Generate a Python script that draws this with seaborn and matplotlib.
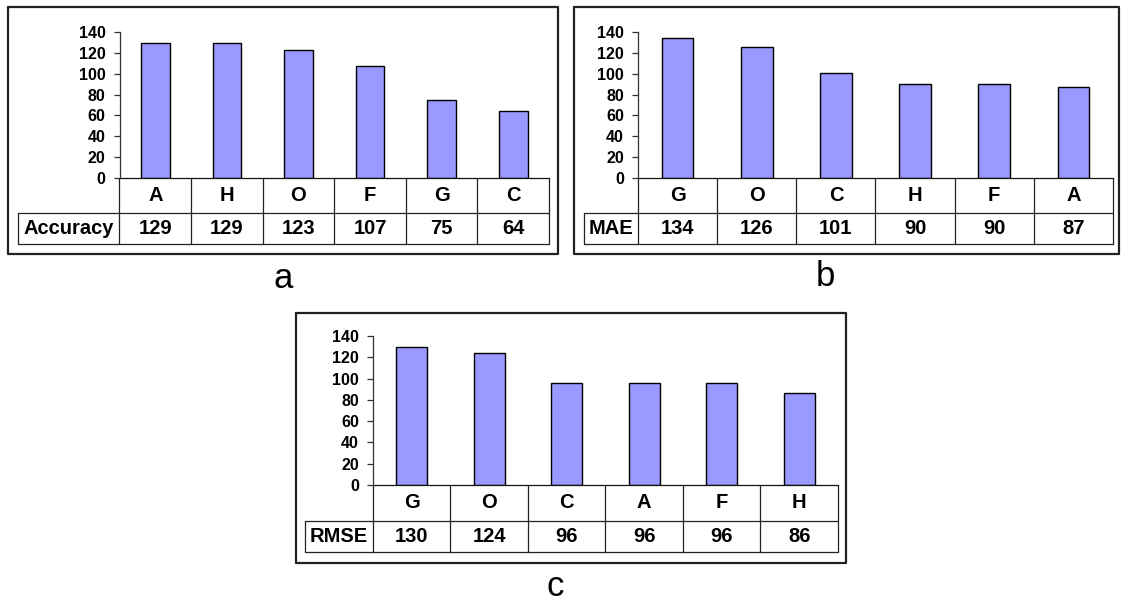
import matplotlib
matplotlib.use("Agg")
import matplotlib.pyplot as plt
import seaborn as sns

# Scores per method for three error/accuracy measures
acc_labels = ["A", "H", "O", "F", "G", "C"]
acc_values = [129, 129, 123, 107, 75, 64]

mae_labels = ["G", "O", "C", "H", "F", "A"]
mae_values = [134, 126, 101, 90, 90, 87]

rmse_labels = ["G", "O", "C", "A", "F", "H"]
rmse_values = [130, 124, 96, 96, 96, 86]

y_ticks = [0, 20, 40, 60, 80, 100, 120, 140]

sns.set_theme(style="white")
plt.rcParams["font.family"] = ["Liberation Sans", "DejaVu Sans"]

W, H, DPI = 1122, 604, 100
fig = plt.figure(figsize=(W / DPI, H / DPI), dpi=DPI)
fig.patch.set_facecolor("white")

# overlay in pixel units for frames, data tables and captions
over = fig.add_axes([0, 0, 1, 1], zorder=5)
over.set_xlim(0, W)
over.set_ylim(H, 0)
over.axis("off")
over.patch.set_alpha(0)


def frac(x0, y0, x1, y1):
    return [x0 / W, 1 - y1 / H, (x1 - x0) / W, (y1 - y0) / H]


def panel(labels, values, name, caption, box, axis_x, table_right, label_left,
          y_top, y_zero, row_mid, row_bot, cap_xy):
    # bar chart
    ax = fig.add_axes(frac(axis_x, y_top, table_right, y_zero))
    sns.barplot(x=labels, y=values, order=labels, ax=ax, color="#9999FF",
                saturation=1, edgecolor="black", linewidth=1.0, width=0.4)
    ax.set_xlim(-0.5, len(labels) - 0.5)
    ax.set_ylim(0, 140)
    ax.set_yticks(y_ticks)
    ax.set_yticklabels([str(t) for t in y_ticks], fontsize=11.5, fontweight="bold")
    ax.set_xticks([])
    ax.set_xlabel("")
    ax.set_ylabel("")
    ax.patch.set_alpha(0)
    for s in ["top", "right"]:
        ax.spines[s].set_visible(False)
    ax.spines["left"].set_color("#333333")
    ax.spines["left"].set_linewidth(0.9)
    ax.spines["bottom"].set_color("#111111")
    ax.spines["bottom"].set_linewidth(0.9)
    ax.tick_params(axis="y", left=True, length=4, width=0.9, color="#333333",
                   pad=6, labelcolor="black")

    # outer frame
    x0, y0, x1, y1 = box
    over.plot([x0, x1, x1, x0, x0], [y0, y0, y1, y1, y0], color="#222222", lw=1.6)

    # data table under the bars
    n = len(labels)
    cw = (table_right - axis_x) / n
    lc = "#222222"
    lw = 0.9
    over.plot([axis_x, axis_x], [y_zero, row_bot], color=lc, lw=lw)
    over.plot([label_left, table_right], [row_mid, row_mid], color=lc, lw=lw)
    over.plot([label_left, table_right], [row_bot, row_bot], color=lc, lw=lw)
    over.plot([label_left, label_left], [row_mid, row_bot], color=lc, lw=lw)
    for i in range(1, n + 1):
        xx = axis_x + i * cw
        over.plot([xx, xx], [y_zero, row_bot], color=lc, lw=lw)
    yc1 = (y_zero + row_mid) / 2
    yc2 = (row_mid + row_bot) / 2
    for i, (lab, v) in enumerate(zip(labels, values)):
        xc = axis_x + (i + 0.5) * cw
        over.text(xc, yc1, lab, ha="center", va="center", fontsize=14.5,
                  fontweight="bold", color="black")
        over.text(xc, yc2, str(v), ha="center", va="center", fontsize=14.5,
                  fontweight="bold", color="black")
    over.text((label_left + axis_x) / 2, yc2, name, ha="center", va="center",
              fontsize=14.5, fontweight="bold", color="black")

    over.text(cap_xy[0], cap_xy[1], caption, ha="center", va="center",
              fontsize=25, color="black")


panel(acc_labels, acc_values, "Accuracy", "a", (8, 7, 558, 254), 119.5, 549, 18.5,
      32, 178, 213, 244, (283, 278))
panel(mae_labels, mae_values, "MAE", "b", (574, 7, 1119, 254), 638, 1113, 584,
      32, 178, 213, 244, (825, 276))
panel(rmse_labels, rmse_values, "RMSE", "c", (296, 313, 846, 563), 373, 838, 305,
      336, 485, 521, 552, (555, 586))

fig.savefig("out.png", dpi=DPI, facecolor="white")
